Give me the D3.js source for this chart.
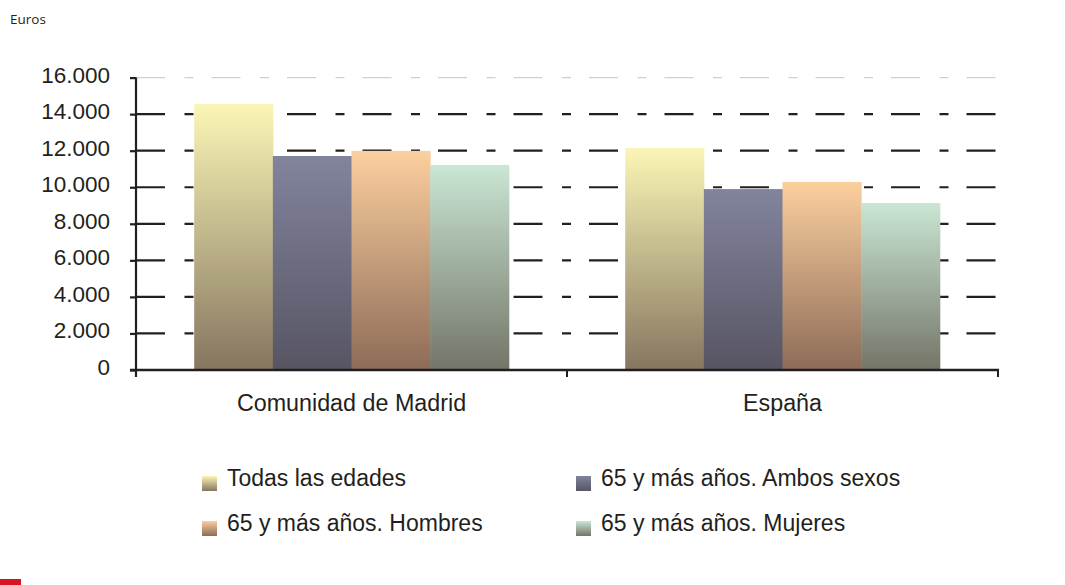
<!DOCTYPE html>
<html>
<head>
<meta charset="utf-8">
<script src="https://cdn.jsdelivr.net/npm/d3@7"></script>
<style>
  body { margin: 0; background: #fff; }
  svg { display: block; font-family: "Liberation Sans", Arial, sans-serif; }
</style>
</head>
<body>
<svg width="1065" height="585"></svg>
<script>
var categories = ["Comunidad de Madrid", "España"];
var series = ["Todas las edades", "65 y más años. Ambos sexos", "65 y más años. Hombres", "65 y más años. Mujeres"];
var madridValues = [14560, 11710, 11990, 11220];
var espanaValues = [12150, 9900, 10290, 9140];
var yTicks = [0, 2000, 4000, 6000, 8000, 10000, 12000, 14000, 16000];
var topColors = ["#fbf6b6", "#82849e", "#fccf9e", "#cae6d4"];
var bottomColors = ["#857660", "#575563", "#8d6b58", "#737567"];

var values = [madridValues, espanaValues];
var ink = "#231f20";

var svg = d3.select("svg"),
    plotLeft = 136, plotRight = 998, plotTop = 77.6, plotBottom = 370;

var defs = svg.append("defs");
series.forEach(function(s, i) {
  var grad = defs.append("linearGradient")
      .attr("id", "grad" + i)
      .attr("x1", 0).attr("y1", 0).attr("x2", 0).attr("y2", 1);
  grad.append("stop").attr("offset", "0%").attr("stop-color", topColors[i]);
  grad.append("stop").attr("offset", "100%").attr("stop-color", bottomColors[i]);
});

var y = d3.scaleLinear().domain([0, 16000]).range([plotBottom, plotTop]);
var x0 = d3.scaleBand().domain(categories).range([plotLeft, plotRight]).padding(0);
var x1 = d3.scaleBand().domain(series).range([0, x0.bandwidth()])
    .paddingInner(0).paddingOuter(0.74);

var fmt = function(d) { return d === 0 ? "0" : d3.format(",")(d).replace(/,/g, "."); };

svg.append("text")
    .attr("x", 10).attr("y", 24)
    .style("font-family", "'Open Sans', sans-serif")
    .style("font-size", "13.5px")
    .attr("fill", ink)
    .text("Euros");

// gridlines
svg.append("g").selectAll("line")
  .data(yTicks.filter(function(d) { return d > 0; }))
  .enter().append("line")
    .attr("x1", plotLeft).attr("x2", plotRight)
    .attr("y1", function(d) { return y(d); })
    .attr("y2", function(d) { return y(d); })
    .attr("stroke", function(d) { return d === 16000 ? "#cfcfcf" : ink; })
    .attr("stroke-width", function(d) { return d === 16000 ? 1.2 : 2.2; })
    .attr("stroke-dasharray", "29,19.5,9,18");

// bars
var groups = svg.append("g").selectAll("g")
  .data(categories)
  .enter().append("g")
    .attr("transform", function(d) { return "translate(" + x0(d) + ",0)"; });

groups.selectAll("rect")
  .data(function(d, ci) { return series.map(function(s, i) { return {s: s, i: i, v: values[ci][i]}; }); })
  .enter().append("rect")
    .attr("x", function(d) { return x1(d.s); })
    .attr("width", x1.bandwidth() + 0.5)
    .attr("y", function(d) { return y(d.v); })
    .attr("height", function(d) { return plotBottom - y(d.v); })
    .attr("fill", function(d) { return "url(#grad" + d.i + ")"; });

// y axis
var yAxis = svg.append("g")
    .attr("transform", "translate(" + plotLeft + ",0)")
    .call(d3.axisLeft(y).tickValues(yTicks).tickFormat(fmt).tickSize(6).tickPadding(20));
yAxis.select(".domain").remove();
yAxis.selectAll(".tick line").attr("stroke", ink).attr("stroke-width", 2.2);
yAxis.selectAll(".tick text")
    .attr("fill", ink)
    .attr("dy", "4.4px")
    .style("font-size", "22.5px")
    .style("font-family", "'Liberation Sans', Arial, sans-serif");
svg.append("line")
    .attr("x1", plotLeft).attr("x2", plotLeft)
    .attr("y1", plotTop).attr("y2", plotBottom + 7)
    .attr("stroke", ink).attr("stroke-width", 2.2);

// x axis
svg.append("line")
    .attr("x1", plotLeft - 6).attr("x2", plotRight + 1)
    .attr("y1", plotBottom).attr("y2", plotBottom)
    .attr("stroke", ink).attr("stroke-width", 2.5);
svg.append("g").selectAll("line")
  .data(categories)
  .enter().append("line")
    .attr("x1", function(d) { return x0(d) + x0.bandwidth(); })
    .attr("x2", function(d) { return x0(d) + x0.bandwidth(); })
    .attr("y1", plotBottom).attr("y2", plotBottom + 7)
    .attr("stroke", ink).attr("stroke-width", 2);
svg.append("g").selectAll("text")
  .data(categories)
  .enter().append("text")
    .attr("x", function(d) { return x0(d) + x0.bandwidth() / 2; })
    .attr("y", 411)
    .attr("text-anchor", "middle")
    .attr("fill", ink)
    .style("font-size", "23.3px")
    .text(function(d) { return d; });

// legend
var legendX = [202, 576], legendY = [476, 521];
var legend = svg.append("g").selectAll("g")
  .data(series)
  .enter().append("g")
    .attr("transform", function(d, i) {
      return "translate(" + legendX[i % 2] + "," + legendY[Math.floor(i / 2)] + ")";
    });
legend.append("rect")
    .attr("width", 15).attr("height", 15)
    .attr("fill", function(d, i) { return "url(#grad" + i + ")"; });
legend.append("text")
    .attr("x", 25).attr("y", 10)
    .attr("fill", ink)
    .style("font-size", "23px")
    .text(function(d) { return d; });

svg.append("rect")
    .attr("x", 0).attr("y", 579).attr("width", 21).attr("height", 6)
    .attr("fill", "#d7141f");
</script>
</body>
</html>
